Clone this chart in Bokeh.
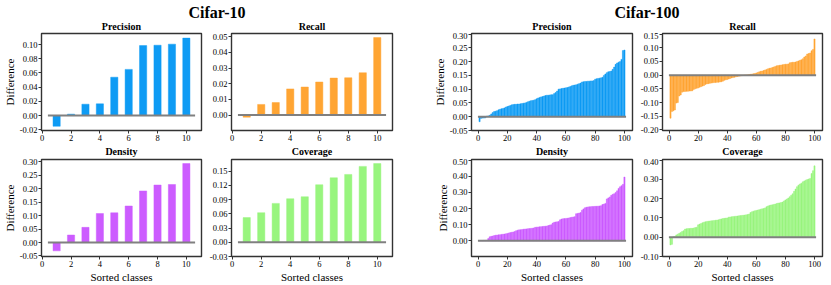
from bokeh.plotting import figure
from bokeh.layouts import column, row, Spacer
from bokeh.models import FixedTicker, NumeralTickFormatter, Range1d
from bokeh.core.properties import value
from bokeh.embed import file_html
from bokeh.resources import INLINE

FONT = "Liberation Serif"

# ---------------- data ----------------
c10_classes = list(range(1, 11))
c10_precision = [-0.015, 0.002, 0.016, 0.0165, 0.054, 0.065, 0.0985, 0.099, 0.1005, 0.109]
c10_recall = [-0.0013, 0.0068, 0.008, 0.0167, 0.0179, 0.0211, 0.0236, 0.0238, 0.027, 0.0494]
c10_density = [-0.031, 0.028, 0.0565, 0.108, 0.1106, 0.136, 0.192, 0.214, 0.216, 0.294]
c10_coverage = [0.052, 0.0624, 0.082, 0.0918, 0.096, 0.1213, 0.136, 0.143, 0.16, 0.166]

c100_classes = list(range(1, 101))
c100_precision = [
    -0.018, -0.006, -0.005, -0.005, -0.004, 0.002, 0.003, 0.005, 0.010, 0.015,
    0.019, 0.020, 0.022, 0.025, 0.027, 0.029, 0.030, 0.032, 0.035, 0.037,
    0.039, 0.041, 0.043, 0.044, 0.045, 0.045, 0.046, 0.046, 0.047, 0.048,
    0.049, 0.050, 0.052, 0.054, 0.056, 0.058, 0.059, 0.060, 0.062, 0.065,
    0.068, 0.070, 0.072, 0.073, 0.075, 0.077, 0.078, 0.078, 0.079, 0.080,
    0.080, 0.084, 0.088, 0.093, 0.100, 0.101, 0.102, 0.103, 0.104, 0.105,
    0.106, 0.108, 0.110, 0.112, 0.114, 0.115, 0.116, 0.118, 0.120, 0.122,
    0.126, 0.127, 0.128, 0.128, 0.129, 0.129, 0.130, 0.130, 0.131, 0.136,
    0.138, 0.139, 0.140, 0.141, 0.143, 0.150, 0.155, 0.160, 0.163, 0.164,
    0.166, 0.172, 0.180, 0.190, 0.195, 0.198, 0.200, 0.208, 0.240, 0.242,
]
c100_recall = [
    -0.157, -0.133, -0.130, -0.127, -0.102, -0.100, -0.076, -0.072, -0.062, -0.060,
    -0.060, -0.059, -0.059, -0.058, -0.058, -0.057, -0.052, -0.050, -0.048, -0.047,
    -0.044, -0.042, -0.040, -0.038, -0.034, -0.032, -0.031, -0.030, -0.029, -0.028,
    -0.027, -0.027, -0.026, -0.026, -0.025, -0.024, -0.022, -0.019, -0.017, -0.016,
    -0.014, -0.012, -0.010, -0.009, -0.008, -0.006, -0.005, -0.004, -0.003, -0.002,
    -0.001, 0.000, 0.001, 0.001, 0.002, 0.003, 0.004, 0.005, 0.006, 0.008,
    0.010, 0.012, 0.014, 0.015, 0.017, 0.019, 0.021, 0.023, 0.025, 0.026,
    0.028, 0.030, 0.032, 0.034, 0.035, 0.036, 0.037, 0.038, 0.039, 0.040,
    0.040, 0.041, 0.045, 0.046, 0.047, 0.047, 0.048, 0.050, 0.052, 0.054,
    0.056, 0.060, 0.066, 0.070, 0.077, 0.079, 0.081, 0.089, 0.094, 0.132,
]
c100_density = [
    0.002, 0.002, 0.002, 0.003, 0.003, 0.004, 0.015, 0.025, 0.028, 0.030,
    0.033, 0.035, 0.036, 0.037, 0.038, 0.040, 0.041, 0.042, 0.044, 0.046,
    0.049, 0.051, 0.053, 0.055, 0.058, 0.063, 0.066, 0.068, 0.069, 0.070,
    0.072, 0.073, 0.074, 0.075, 0.076, 0.077, 0.078, 0.080, 0.084, 0.085,
    0.086, 0.087, 0.088, 0.089, 0.090, 0.091, 0.092, 0.095, 0.098, 0.100,
    0.110, 0.115, 0.117, 0.118, 0.120, 0.130, 0.135, 0.137, 0.138, 0.139,
    0.140, 0.142, 0.144, 0.146, 0.148, 0.150, 0.168, 0.170, 0.172, 0.175,
    0.190, 0.198, 0.205, 0.208, 0.210, 0.211, 0.212, 0.213, 0.213, 0.214,
    0.214, 0.215, 0.216, 0.218, 0.225, 0.228, 0.232, 0.260, 0.266, 0.272,
    0.282, 0.288, 0.292, 0.300, 0.310, 0.325, 0.335, 0.342, 0.350, 0.395,
]
c100_coverage = [
    -0.040, -0.037, 0.002, 0.004, 0.012, 0.016, 0.020, 0.025, 0.030, 0.034,
    0.042, 0.044, 0.045, 0.045, 0.046, 0.046, 0.048, 0.050, 0.052, 0.064,
    0.068, 0.071, 0.075, 0.078, 0.080, 0.082, 0.083, 0.084, 0.085, 0.086,
    0.087, 0.088, 0.089, 0.090, 0.093, 0.095, 0.097, 0.098, 0.099, 0.100,
    0.104, 0.105, 0.106, 0.107, 0.108, 0.109, 0.110, 0.111, 0.112, 0.113,
    0.114, 0.115, 0.116, 0.118, 0.120, 0.128, 0.132, 0.135, 0.137, 0.139,
    0.141, 0.143, 0.145, 0.147, 0.149, 0.152, 0.158, 0.162, 0.165, 0.167,
    0.168, 0.170, 0.172, 0.175, 0.177, 0.178, 0.180, 0.182, 0.188, 0.193,
    0.198, 0.203, 0.210, 0.218, 0.225, 0.238, 0.250, 0.262, 0.270, 0.276,
    0.280, 0.287, 0.292, 0.296, 0.299, 0.302, 0.305, 0.330, 0.345, 0.370,
]

# tick labels
c10_xticks = [0, 2, 4, 6, 8, 10]
c100_xticks = [0, 20, 40, 60, 80, 100]
c10_precision_yticks = [-0.02, 0.0, 0.02, 0.04, 0.06, 0.08, 0.10]
c10_recall_yticks = [-0.01, 0.0, 0.01, 0.02, 0.03, 0.04, 0.05]
c10_density_yticks = [-0.05, 0.0, 0.05, 0.10, 0.15, 0.20, 0.25, 0.30]
c10_coverage_yticks = [-0.03, 0.0, 0.03, 0.06, 0.09, 0.12, 0.15]
c100_precision_yticks = [-0.05, 0.0, 0.05, 0.10, 0.15, 0.20, 0.25, 0.30]
c100_recall_yticks = [-0.20, -0.15, -0.10, -0.05, 0.0, 0.05, 0.10, 0.15]
c100_density_yticks = [-0.10, 0.0, 0.10, 0.20, 0.30, 0.40, 0.50]
c100_coverage_yticks = [-0.10, 0.0, 0.10, 0.20, 0.30, 0.40]

suptitles = ["Cifar-10", "Cifar-100"]
row1_titles = ["Precision", "Recall", "Precision", "Recall"]
row2_titles = ["Density", "Coverage", "Density", "Coverage"]

COLORS = {"Precision": "#0E9BF4", "Recall": "#FFA533", "Density": "#CC5CFF", "Coverage": "#98F57E"}

# ---------------- layout constants ----------------
STRIP1_H = 32
STRIP2_H = 13
ROW1 = dict(height=113, top=1, bottom=15)
ROW2 = dict(height=127, top=1, bottom=28)
COLS = [dict(width=203, left=41, right=2), dict(width=193, left=28, right=4),
        dict(width=204, left=41, right=2), dict(width=196, left=28, right=8)]
GAP = 34
TOTAL_W = sum(c["width"] for c in COLS) + GAP
MID = 0.34  # em: baseline sits this far below a "middle"-anchored text position


def col_offsets():
    offs, x = [], 0
    for i, c in enumerate(COLS):
        offs.append(x)
        x += c["width"] + (GAP if i == 1 else 0)
    return offs


OFFS = col_offsets()
FRAME_L = [OFFS[i] + COLS[i]["left"] for i in range(4)]
FRAME_R = [OFFS[i] + COLS[i]["width"] - COLS[i]["right"] for i in range(4)]


def strip(height, texts, xs, baseline_from_top, size):
    s = figure(width=TOTAL_W, height=height, output_backend="svg", toolbar_location=None,
               x_range=Range1d(0, TOTAL_W), y_range=Range1d(0, height), min_border=0,
               title=None, x_axis_type=None, y_axis_type=None)
    s.xgrid.visible = False
    s.ygrid.visible = False
    s.outline_line_color = None
    for txt, x, b, fs in zip(texts, xs, baseline_from_top, size):
        s.text(x=[x], y=[height - (b - MID * fs)], text=[txt], text_align="center",
               text_baseline="middle", text_font=value(FONT),
               text_font_size=f"{fs}px", text_font_style="bold", text_color="black")
    return s


def panel(name, xs, ys, col, rw, xr, yr, yticks, xticks, bar_w, ylabel=None, xlabel=None):
    p = figure(width=col["width"], height=rw["height"], output_backend="svg",
               toolbar_location=None, x_range=Range1d(*xr), y_range=Range1d(*yr),
               min_border_left=col["left"], min_border_right=col["right"],
               min_border_top=rw["top"], min_border_bottom=rw["bottom"], title=None)
    p.vbar(x=xs, top=ys, width=bar_w, bottom=0, fill_color=COLORS[name],
           line_color=COLORS[name], line_alpha=0.45, line_width=1)
    span = xr[1] - xr[0]
    p.segment(x0=[xr[0] + 0.04 * span], y0=[0], x1=[xr[0] + 0.96 * span], y1=[0],
              line_color="#808080", line_width=2)
    p.xgrid.visible = False
    p.ygrid.visible = False
    for ax in p.axis:
        ax.major_tick_out = 3
        ax.major_tick_in = 0
        ax.minor_tick_out = 0
        ax.minor_tick_in = 0
        ax.major_label_text_font = FONT
        ax.major_label_text_font_size = "8.5px"
        ax.major_label_text_color = "black"
        ax.major_label_text_line_height = 1.0
        ax.major_label_standoff = 1
        ax.axis_line_color = "#333333"
        ax.major_tick_line_color = "#333333"
        ax.axis_label_text_font = FONT
        ax.axis_label_text_font_size = "11px"
        ax.axis_label_text_font_style = "normal"
        ax.axis_label_text_color = "black"
        ax.axis_label_text_line_height = 1.0
        ax.axis_label_standoff = 1
    p.yaxis.ticker = FixedTicker(ticks=yticks)
    p.yaxis.formatter = NumeralTickFormatter(format="0.00")
    p.xaxis.ticker = FixedTicker(ticks=xticks)
    if ylabel:
        p.yaxis.axis_label = ylabel
    if xlabel:
        p.xaxis.axis_label = xlabel
    p.outline_line_color = "#333333"
    p.outline_line_width = 1.4
    return p


c10_xr = (-0.05, 11.05)
c100_xr = (-4.5, 105.5)

f1 = panel("Precision", c10_classes, c10_precision, COLS[0], ROW1, c10_xr, (-0.021, 0.1155),
           c10_precision_yticks, c10_xticks, 0.5, ylabel="Difference")
f2 = panel("Recall", c10_classes, c10_recall, COLS[1], ROW1, c10_xr, (-0.0098, 0.052),
           c10_recall_yticks, c10_xticks, 0.5)
f3 = panel("Precision", c100_classes, c100_precision, COLS[2], ROW1, c100_xr, (-0.05, 0.302),
           c100_precision_yticks, c100_xticks, 0.8, ylabel="Difference")
f4 = panel("Recall", c100_classes, c100_recall, COLS[3], ROW1, c100_xr, (-0.202, 0.152),
           c100_recall_yticks, c100_xticks, 0.8)

f5 = panel("Density", c10_classes, c10_density, COLS[0], ROW2, c10_xr, (-0.052, 0.309),
           c10_density_yticks, c10_xticks, 0.5, ylabel="Difference", xlabel="Sorted classes")
f6 = panel("Coverage", c10_classes, c10_coverage, COLS[1], ROW2, c10_xr, (-0.03, 0.1745),
           c10_coverage_yticks, c10_xticks, 0.5, xlabel="Sorted classes")
f7 = panel("Density", c100_classes, c100_density, COLS[2], ROW2, c100_xr, (-0.097, 0.504),
           c100_density_yticks, c100_xticks, 0.8, ylabel="Difference", xlabel="Sorted classes")
f8 = panel("Coverage", c100_classes, c100_coverage, COLS[3], ROW2, c100_xr, (-0.1, 0.403),
           c100_coverage_yticks, c100_xticks, 0.8, xlabel="Sorted classes")

centers = [(FRAME_L[i] + FRAME_R[i]) / 2 for i in range(4)]
group_centers = [(FRAME_L[0] + FRAME_R[1]) / 2, (FRAME_L[2] + FRAME_R[3]) / 2]

s1 = strip(STRIP1_H, suptitles + row1_titles, group_centers + centers,
           [17, 17, 29.5, 29.5, 29.5, 29.5], [16, 16, 10, 10, 10, 10])
s2 = strip(STRIP2_H, row2_titles, centers, [9, 9, 9, 9], [10, 10, 10, 10])

layout = column(
    s1,
    row(f1, f2, Spacer(width=GAP, height=ROW1["height"]), f3, f4),
    s2,
    row(f5, f6, Spacer(width=GAP, height=ROW2["height"]), f7, f8),
)

open("out.html", "w").write(file_html(layout, INLINE))
